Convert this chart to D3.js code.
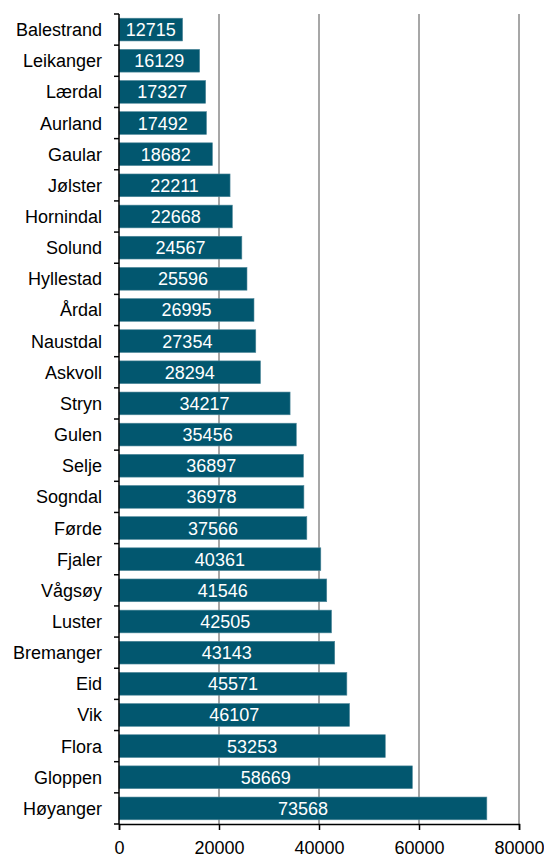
<!DOCTYPE html>
<html>
<head>
<meta charset="utf-8">
<script src="https://cdn.jsdelivr.net/npm/d3@7"></script>
<style>
  body { margin: 0; background: #fff; }
  text { font-family: "Liberation Sans", Arial, sans-serif; }
</style>
</head>
<body>
<script>
// municipalities, top to bottom
var kommuner = ["Balestrand","Leikanger","Lærdal","Aurland","Gaular","Jølster","Hornindal","Solund",
  "Hyllestad","Årdal","Naustdal","Askvoll","Stryn","Gulen","Selje","Sogndal","Førde","Fjaler",
  "Vågsøy","Luster","Bremanger","Eid","Vik","Flora","Gloppen","Høyanger"];
var verdier = [12715,16129,17327,17492,18682,22211,22668,24567,25596,26995,27354,28294,34217,
  35456,36897,36978,37566,40361,41546,42505,43143,45571,46107,53253,58669,73568];
var xTicks = [0, 20000, 40000, 60000, 80000];

var width = 544, height = 855;
var mLeft = 119, mRight = 519, mTop = 14, mBottom = 824;
var fontsize = "18px";

var data = kommuner.map(function(k, i){ return {name: k, value: verdier[i]}; });

var svg = d3.select("body").append("svg")
  .attr("width", width).attr("height", height);

var x = d3.scaleLinear().domain([0, 80000]).range([mLeft, mRight]);
var y = d3.scaleBand().domain(kommuner).range([mTop, mBottom]).paddingInner(0.27).paddingOuter(0.135);

// gridlines
svg.append("g").selectAll("line")
  .data(xTicks.filter(function(d){ return d > 0; }))
  .enter().append("line")
  .attr("x1", function(d){ return x(d); }).attr("x2", function(d){ return x(d); })
  .attr("y1", mTop).attr("y2", mBottom)
  .attr("stroke", "#8a8a8a").attr("stroke-width", 1.5);

// bars
svg.append("g").selectAll("rect")
  .data(data).enter().append("rect")
  .attr("x", x(0))
  .attr("y", function(d){ return y(d.name); })
  .attr("width", function(d){ return x(d.value) - x(0); })
  .attr("height", y.bandwidth())
  .attr("fill", "#02576f")
  .attr("stroke", "#4f8799").attr("stroke-width", 0.6);

// value labels
svg.append("g").selectAll("text")
  .data(data).enter().append("text")
  .attr("x", function(d){ return (x(0) + x(d.value)) / 2; })
  .attr("y", function(d){ return y(d.name) + y.bandwidth() / 2; })
  .attr("dy", "0.36em")
  .attr("text-anchor", "middle")
  .attr("fill", "#fff")
  .style("font-size", fontsize)
  .text(function(d){ return d.value; });

// x axis
var xAxis = svg.append("g")
  .attr("transform", "translate(0," + mBottom + ")")
  .call(d3.axisBottom(x).tickValues(xTicks).tickFormat(d3.format("d")).tickSizeOuter(0).tickSize(6).tickPadding(11));

// y axis with ticks at band boundaries
var yAxis = svg.append("g").attr("transform", "translate(" + mLeft + ",0)");
yAxis.append("line").attr("x1", 0).attr("x2", 0).attr("y1", mTop).attr("y2", mBottom)
  .attr("stroke", "#000").attr("stroke-width", 1.5);
yAxis.selectAll("line.tk")
  .data(d3.range(kommuner.length + 1)).enter().append("line").attr("class", "tk")
  .attr("x1", -5).attr("x2", 0)
  .attr("y1", function(i){ return mTop + i * y.step(); })
  .attr("y2", function(i){ return mTop + i * y.step(); })
  .attr("stroke", "#000").attr("stroke-width", 1.5);
yAxis.selectAll("text")
  .data(kommuner).enter().append("text")
  .attr("x", -17)
  .attr("y", function(d){ return y(d) + y.bandwidth() / 2; })
  .attr("dy", "0.36em")
  .attr("text-anchor", "end")
  .attr("fill", "#000")
  .style("font-size", fontsize)
  .text(function(d){ return d; });

xAxis.select(".domain").attr("stroke", "#000").attr("stroke-width", 1.5);
xAxis.selectAll(".tick line").attr("stroke", "#000").attr("stroke-width", 1.5);
xAxis.selectAll(".tick text").attr("font-size", null).style("font-size", fontsize).attr("fill", "#000")
  .attr("font-family", null);
</script>
</body>
</html>
